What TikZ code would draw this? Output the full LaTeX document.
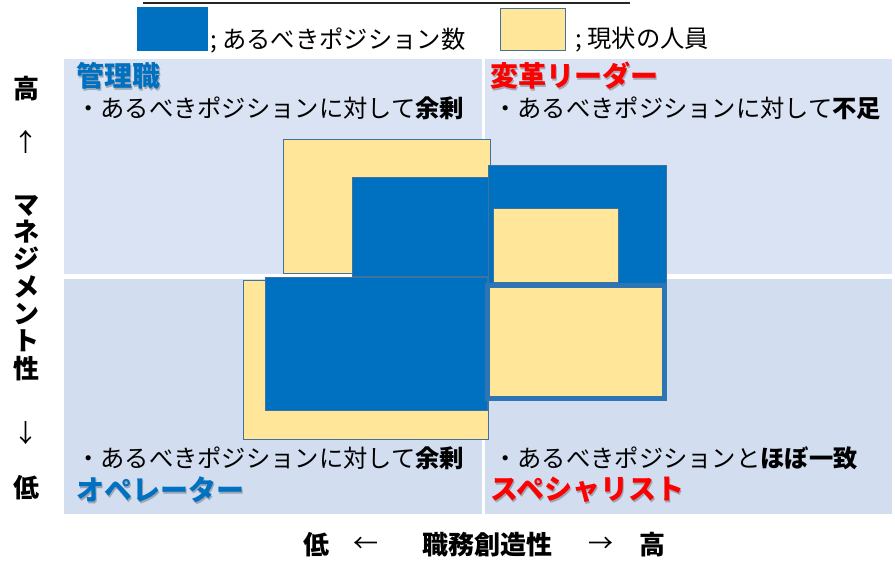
\documentclass[tikz,border=0pt]{standalone}
\usepackage{fontspec}
\setmainfont{Noto Sans CJK JP}
\definecolor{bluefill}{HTML}{0070C0}
\definecolor{yellowfill}{HTML}{FFE699}
\definecolor{edgeblue}{HTML}{41719C}
\definecolor{framblue}{HTML}{2E75B6}
\definecolor{paneltop}{HTML}{DAE3F3}
\definecolor{panelbot}{HTML}{D2DDEF}
\definecolor{headblue}{HTML}{0070C0}
\definecolor{headred}{HTML}{FF0000}
\tikzset{
  bluebox/.style={fill=bluefill, draw=edgeblue, line width=0.9pt},
  yellowbox/.style={fill=yellowfill, draw=edgeblue, line width=0.9pt},
  bodytext/.style={anchor=west, inner sep=0pt, font=\fontsize{24.3}{28}\selectfont},
  headtext/.style={anchor=west, inner sep=0pt, font=\fontsize{28}{30}\selectfont\bfseries},
  headshadow/.style={headtext, text=black, opacity=0.25},
  axistext/.style={inner sep=0pt, font=\fontsize{26}{27.3}\selectfont\bfseries, align=center},
  arrowtext/.style={inner sep=0pt, font=\fontsize{25}{27}\selectfont},
}
\begin{document}
\begin{tikzpicture}[x=1pt,y=-1pt]
\useasboundingbox (0,0) rectangle (895,561);
% top cut line
\draw[line width=1.5pt, black!85] (143,3) -- (630,3);
% legend
\draw[bluebox, draw=bluefill] (137,7) rectangle (207,50);
\node[bodytext] (lg1) at (210,40) {; あるべきポジション数};
\draw[yellowbox] (500,8) rectangle (565,50);
\node[bodytext] (lg2) at (575,40) {; 現状の人員};
% panels
\fill[paneltop] (64,59) rectangle (482,274);
\fill[paneltop] (485,59) rectangle (892,274);
\fill[panelbot] (64,279) rectangle (482,514);
\fill[panelbot] (485,279) rectangle (892,514);
% quadrant texts
\node[headshadow] (h1s) at (77.5,77.5) {管理職};
\node[headtext, text=headblue] (h1) at (76,76) {管理職};
\node[bodytext] (t1) at (76,108) {・あるべきポジションに対して{\bfseries 余剰}};
\node[headshadow] (h2s) at (491.5,77.5) {変革リーダー};
\node[headtext, text=headred] (h2) at (490,76) {変革リーダー};
\node[bodytext] (t2) at (493,108) {・あるべきポジションに対して{\bfseries 不足}};
\node[bodytext] (t3) at (76,458) {・あるべきポジションに対して{\bfseries 余剰}};
\node[headshadow] (h3s) at (77.5,491.5) {オペレーター};
\node[headtext, text=headblue] (h3) at (76,490) {オペレーター};
\node[bodytext] (t4) at (493,458) {・あるべきポジションと{\bfseries ほぼ一致}};
\node[headshadow] (h4s) at (491.5,491.5) {スペシャリスト};
\node[headtext, text=headred] (h4) at (490,490) {スペシャリスト};
% boxes
\draw[yellowbox] (283,139) rectangle (490,273);
\draw[bluebox] (352,177) rectangle (488,276);
\draw[bluebox] (488,165) rectangle (666,283);
\draw[yellowbox] (493,208) rectangle (618,282);
\draw[yellowbox] (243,280) rectangle (488,439);
\draw[bluebox] (265,277) rectangle (487,410);
\draw[fill=yellowfill, draw=framblue, line width=4.5pt] (487.5,285.5) rectangle (664.5,398.5);
% vertical axis
\node[axistext] (yhi) at (26,89) {高};
\node[arrowtext] (yup) at (26,142) {↑};
\node[axistext] (ylab) at (26,288) {マ\\ネ\\ジ\\メ\\ン\\ト\\性};
\node[arrowtext] (ydn) at (26,433) {↓};
\node[axistext] (ylo) at (26,488) {低};
% horizontal axis
\node[axistext] (xlo) at (316,545) {低};
\node[arrowtext] (xl) at (366,545) {←};
\node[axistext] (xlab) at (487,545) {職務創造性};
\node[arrowtext] (xr) at (601,545) {→};
\node[axistext] (xhi) at (652,545) {高};
\end{tikzpicture}
\end{document}
